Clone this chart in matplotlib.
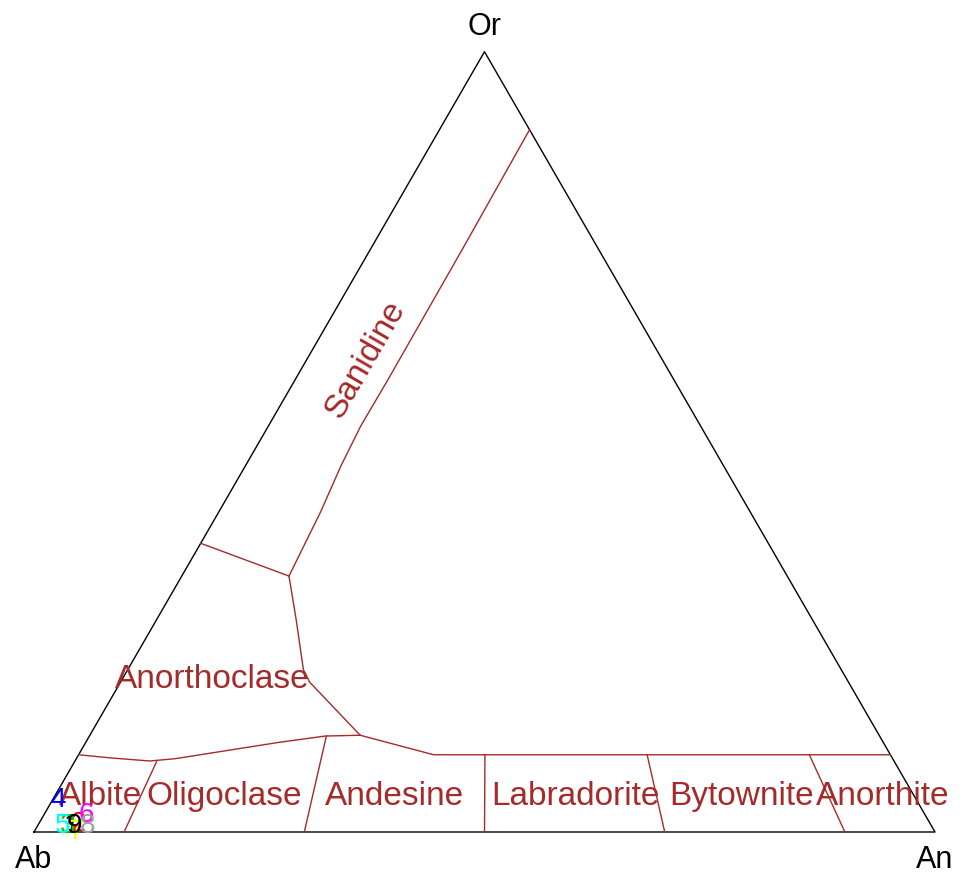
import numpy as np
import matplotlib
matplotlib.use("Agg")
import matplotlib.pyplot as plt

plt.rcParams['font.family'] = ['Liberation Sans', 'DejaVu Sans']

# ---- data: boundary lines as (An, Or) compositions in % ----
sanidine_an = [10.0, 10.2, 10.3, 10.25, 10.6, 11.3, 11.9]
sanidine_or = [90.0, 75.0, 58.0, 52.0, 47.0, 41.0, 32.8]

anortho_top_an = [0.0, 11.9]
anortho_top_or = [37.0, 32.8]

anortho_right_an = [11.9, 15.5, 19.5, 21.0, 30.0, 39.4, 90.1]
anortho_right_or = [32.8, 27.2, 20.8, 19.2, 12.4, 9.9, 9.9]

plag_top_an = [0.0, 3.7, 8.3, 11.0, 16.5, 21.5, 26.2, 30.0]
plag_top_or = [9.9, 9.5, 9.1, 9.4, 10.5, 11.5, 12.3, 12.4]

# plagioclase dividers: (An_top, Or_top) -> (An_bottom, 0)
div_top_an = [9.1, 26.3, 45.1, 63.1, 81.1]
div_top_or = [9.0, 12.3, 9.9, 9.9, 9.9]
div_bot_an = [10.0, 30.0, 50.0, 70.0, 90.0]

field_names = ["Albite", "Oligoclase", "Andesine", "Labradorite",
               "Bytownite", "Anorthite", "Anorthoclase", "Sanidine"]
field_an = [5.1, 18.9, 37.8, 57.8, 76.3, 91.9, 10.0, 6.5]
field_or = [4.5, 4.5, 4.5, 4.5, 4.5, 4.5, 19.5, 60.5]

# samples
sample_labels = ["1", "2", "3", "4", "5", "6", "7", "8", "9"]
sample_an = [3.8, 4.4, 3.3, 0.6, 2.8, 4.7, 4.7, 5.5, 4.1]
sample_or = [0.8, 1.0, 0.8, 4.1, 0.8, 2.2, 0.0, 0.8, 0.8]
sample_colors = ["black", "red", "green3", "blue", "cyan", "magenta",
                 "yellow", "gray", "black"]
color_map = {"green3": "#00CD00", "gray": "#9E9E9E"}

corner_names = ["Ab", "An", "Or"]
corner_an = [0.0, 100.0, 0.0]
corner_or = [0.0, 0.0, 100.0]

S3 = np.sqrt(3) / 2


def tern(an, orr):
    an = np.asarray(an, float)
    orr = np.asarray(orr, float)
    return an + orr / 2.0, orr * S3


brown = "#A52A2A"

fig = plt.figure(figsize=(9.62, 8.82), dpi=100)
ax = fig.add_axes([0, 0, 1, 1])
ax.set_xlim(-34 / 9.01, (962 - 34) / 9.01)
ax.set_ylim((832 - 882) / 9.01, 832 / 9.01)
ax.axis("off")

# triangle
tx, ty = tern(corner_an + [corner_an[0]], corner_or + [corner_or[0]])
ax.plot(tx, ty, color="black", lw=1.0)

# boundaries
for a, o in [(sanidine_an, sanidine_or), (anortho_top_an, anortho_top_or),
             (anortho_right_an, anortho_right_or), (plag_top_an, plag_top_or)]:
    x, y = tern(a, o)
    ax.plot(x, y, color=brown, lw=1.0)
for at, ot, ab in zip(div_top_an, div_top_or, div_bot_an):
    x, y = tern([at, ab], [ot, 0.0])
    ax.plot(x, y, color=brown, lw=1.0)

# field names
for name, a, o in zip(field_names, field_an, field_or):
    x, y = tern(a, o)
    rot = 60 if name == "Sanidine" else 0
    ax.text(x, y, name, color=brown, fontsize=24, ha="center", va="center",
            rotation=rot, rotation_mode="anchor")

# corner labels
offsets = {"Ab": (0, -20), "An": (0, -20), "Or": (0, 18)}
for name, a, o in zip(corner_names, corner_an, corner_or):
    x, y = tern(a, o)
    ax.annotate(name, (x, y), xytext=offsets[name], textcoords="offset points",
                ha="center", va="center", fontsize=22, color="black")

# samples
for lab, a, o, c in zip(sample_labels, sample_an, sample_or, sample_colors):
    x, y = tern(a, o)
    ax.text(x, y, lab, color=color_map.get(c, c), fontsize=20,
            ha="center", va="center")

fig.savefig("out.png", dpi=100)
